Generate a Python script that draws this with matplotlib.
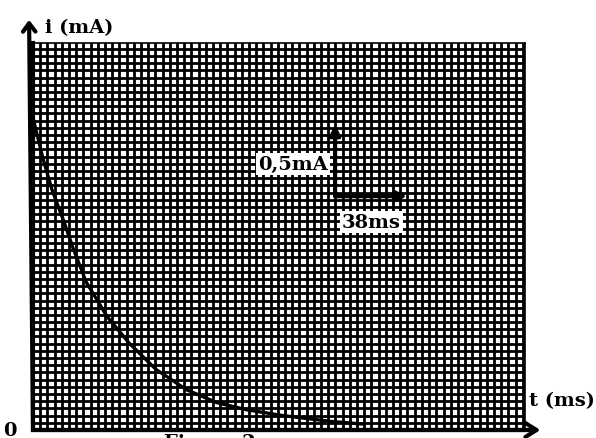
import numpy as np
import matplotlib.pyplot as plt

# Discharge current (t in ms, i in mA)
t_ms = [0, 5, 10, 16, 21, 28, 39, 51, 65, 81, 97, 113, 132, 157, 175]
i_mA = [2.17, 1.90, 1.67, 1.46, 1.27, 1.03, 0.79, 0.60, 0.42, 0.28, 0.19, 0.14, 0.10, 0.06, 0.04]

# Graph paper: one cell = 3.8 ms x 0.05 mA
cell_t = 3.8
cell_i = 0.05
t_max = 259.6
i_max = 2.69

# Scale markers drawn on the paper
scale_origin = (159.4, 1.625)
scale_i = 0.5
scale_t = 38
scale_i_label = '0,5mA'
scale_t_label = '38ms'

fig = plt.figure(figsize=(5.96, 4.39), dpi=100)
ax = fig.add_axes([33 / 596, 8 / 439, 492 / 596, 387 / 439])
ax.set_xlim(0, t_max)
ax.set_ylim(0, i_max)

# Dense black grid
ax.set_xticks(np.arange(0, t_max, cell_t))
ax.set_yticks(np.arange(0, i_max, cell_i))
ax.grid(True, color='black', lw=2.0)
ax.set_axisbelow(True)
ax.tick_params(length=0, labelbottom=False, labelleft=False)
for side in ['top', 'right']:
    ax.spines[side].set_linewidth(1.2)
for side in ['left', 'bottom']:
    ax.spines[side].set_linewidth(3)

# Curve
ax.plot(t_ms, i_mA, color='black', lw=2.4, solid_capstyle='round', zorder=3)

# Axis arrows
ax.annotate('', xy=(1.037, 0), xytext=(0, 0), xycoords='axes fraction',
            arrowprops=dict(arrowstyle='->,head_length=0.8,head_width=0.5', lw=3, color='black'),
            annotation_clip=False)
ax.annotate('', xy=(-0.008, 1.067), xytext=(0, 0), xycoords='axes fraction',
            arrowprops=dict(arrowstyle='->,head_length=0.6,head_width=0.45', lw=3, color='black'),
            annotation_clip=False)

# Scale markers
x0, y0 = scale_origin
arrow_kw = dict(arrowstyle='-|>,head_length=0.6,head_width=0.3', lw=3, color='black',
                shrinkA=0, shrinkB=0)
ax.annotate('', xy=(x0, y0 + scale_i), xytext=(x0, y0), arrowprops=arrow_kw)
ax.annotate('', xy=(x0 + scale_t, y0), xytext=(x0, y0), arrowprops=arrow_kw)

lbl = dict(family='DejaVu Serif', weight='bold', fontsize=14, color='black',
           bbox=dict(facecolor='white', edgecolor='none', pad=1.5))
ax.text(x0 - 4, y0 + scale_i * 0.45, scale_i_label, ha='right', va='center', **lbl)
ax.text(x0 + scale_t / 2, y0 - 0.18, scale_t_label, ha='center', va='center', **lbl)

# Axis labels
txt = dict(family='DejaVu Serif', weight='bold', fontsize=14, color='black')
fig.text(45 / 596, 1 - 28 / 439, 'i (mA)', ha='left', va='center', **txt)
fig.text(529 / 596, 1 - 401 / 439, 't (ms)', ha='left', va='center', **txt)
fig.text(10 / 596, 1 - 431 / 439, '0', ha='center', va='center', **txt)
fig.text(210 / 596, 1 - 434 / 439, 'Figure 2', ha='center', va='top', **txt)

fig.savefig('out.png', dpi=100)
